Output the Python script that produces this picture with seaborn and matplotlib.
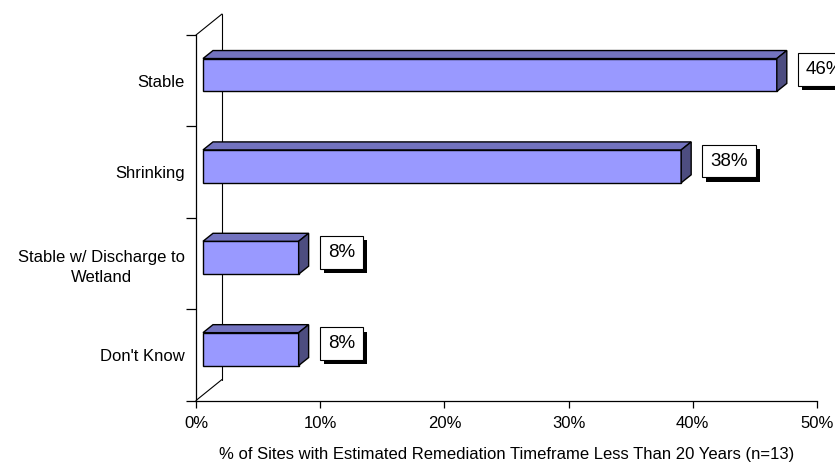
import numpy as np
import pandas as pd
import matplotlib
matplotlib.use("Agg")
import matplotlib.pyplot as plt
import matplotlib.patheffects as pe
from matplotlib.patches import Polygon
import seaborn as sns

# data (n=13 sites)
categories = ["Stable", "Shrinking", "Stable w/ Discharge to\nWetland", "Don't Know"]
percent = [46.2, 38.5, 7.7, 7.7]
x_ticks = [0, 10, 20, 30, 40, 50]
x_label = "% of Sites with Estimated Remediation Timeframe Less Than 20 Years (n=13)"

df = pd.DataFrame({"category": categories, "percent": percent})

sns.set_style("white")
plt.rcParams["font.family"] = ["Liberation Sans", "DejaVu Sans"]
plt.rcParams["text.color"] = "black"
plt.rcParams["xtick.color"] = "black"
plt.rcParams["ytick.color"] = "black"
plt.rcParams["axes.labelcolor"] = "black"

fig = plt.figure(figsize=(8.35, 4.63), dpi=100)
ax = fig.add_axes([196 / 835, 62.5 / 463, 621 / 835, 365.5 / 463])

sns.barplot(data=df, x="percent", y="category", orient="h", width=0.36,
            color="#9999FF", saturation=1, edgecolor="black", linewidth=1.0,
            ax=ax, zorder=3)

ax.set_xlim(0, 50)
ax.set_ylim(len(categories) - 0.5, -0.5)

# pixel -> data conversion for the fake 3d depth
ux = (ax.transData.transform((1, 0)) - ax.transData.transform((0, 0)))[0]
uy = abs((ax.transData.transform((0, 1)) - ax.transData.transform((0, 0)))[1])

def px(dx, dy):
    # up on screen is smaller category value (inverted axis)
    return dx / ux, -dy / uy

front = px(7, 5.7)
depth = px(10, 8)
wall = px(26, 21)

for bar in ax.patches:
    bar.set_x(bar.get_x() + front[0])
    bar.set_y(bar.get_y() + front[1])
    x0, y0 = bar.get_x(), bar.get_y()
    w, h = bar.get_width(), bar.get_height()
    x1 = x0 + w
    top = Polygon([(x0, y0), (x1, y0), (x1 + depth[0], y0 + depth[1]),
                   (x0 + depth[0], y0 + depth[1])], closed=True,
                  fc="#7373BF", ec="black", lw=1.0, zorder=3)
    side = Polygon([(x1, y0), (x1, y0 + h), (x1 + depth[0], y0 + h + depth[1]),
                    (x1 + depth[0], y0 + depth[1])], closed=True,
                   fc="#4D4D80", ec="black", lw=1.0, zorder=3)
    ax.add_patch(top)
    ax.add_patch(side)

# back wall and floor edges
y_top, y_bot = -0.5, len(categories) - 0.5
ax.plot([wall[0], wall[0]], [y_top + wall[1], y_bot + wall[1]], color="black",
        lw=0.8, zorder=1, clip_on=False)
ax.plot([0, wall[0]], [y_top, y_top + wall[1]], color="black", lw=0.8,
        zorder=1, clip_on=False)
ax.plot([0, wall[0]], [y_bot, y_bot + wall[1]], color="black", lw=0.8,
        zorder=1, clip_on=False)

# value labels with drop shadow boxes
for i, v in enumerate(percent):
    t = ax.annotate(f"{round(v)}%", xy=(v, i), xytext=(36, 11),
                    textcoords="offset pixels", ha="left", va="center",
                    fontsize=13.5, annotation_clip=False, zorder=5,
                    bbox=dict(boxstyle="square,pad=0.42", fc="white",
                              ec="black", lw=0.8))
    t.get_bbox_patch().set_path_effects([
        pe.SimplePatchShadow(offset=(3, -3), shadow_rgbFace="black", alpha=1),
        pe.Normal()])

# axes styling
for s in ["top", "right"]:
    ax.spines[s].set_visible(False)
for s in ["left", "bottom"]:
    ax.spines[s].set_color("black")
    ax.spines[s].set_linewidth(0.9)

ax.set_xticks(x_ticks)
ax.set_xticklabels([f"{t}%" for t in x_ticks])
ax.tick_params(axis="x", direction="out", length=5, width=0.9, color="black",
               labelsize=12, pad=6, bottom=True)
ax.set_yticks(range(len(categories)), minor=False)
ax.set_yticklabels(categories, multialignment="center", linespacing=1.45)
ax.set_yticks(np.arange(-0.5, len(categories)), minor=True)
ax.tick_params(axis="y", which="major", length=0, labelsize=12, pad=8)
ax.tick_params(axis="y", which="minor", direction="out", length=7, width=0.9,
               color="black", left=True)
ax.set_ylabel("")
ax.set_xlabel(x_label, fontsize=12, labelpad=12)
ax.grid(False)

fig.savefig("out.png", dpi=100)
